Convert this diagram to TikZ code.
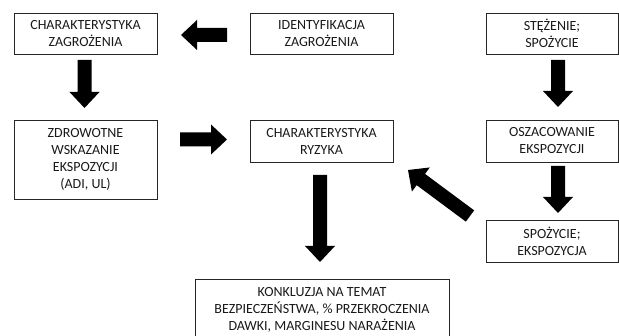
\documentclass[tikz,border=0pt]{standalone}
\usepackage{fontspec}
\setmainfont{Carlito}
\usetikzlibrary{calc}
\tikzset{
  box/.style={draw=black!85, line width=0.8pt, inner sep=0pt, align=center,
    text=black!90, font=\fontsize{14}{17}\selectfont},
}
\newcommand{\blockarrow}[2]{%
  \path ($(#2)!16pt!(#1)$) coordinate (hb);
  \fill[black] ($(#1)!7pt!90:(#2)$) -- ($(hb)!7pt!90:(#2)$) -- ($(hb)!15pt!90:(#2)$)
    -- (#2) -- ($(hb)!15pt!-90:(#2)$) -- ($(hb)!7pt!-90:(#2)$) -- ($(#1)!7pt!-90:(#2)$) -- cycle;}
\begin{document}
\begin{tikzpicture}[x=1pt,y=-1pt]
\useasboundingbox (0,0) rectangle (619,336);
\begin{scope}
\clip (0,0) rectangle (619,336);
\node[box, minimum width=143pt, minimum height=41pt] (A) at (85.5,33.5) {CHARAKTERYSTYKA\\ZAGROŻENIA};
\node[box, minimum width=143pt, minimum height=41pt] (B) at (321.5,33.5) {IDENTYFIKACJA\\ZAGROŻENIA};
\node[box, minimum width=132pt, minimum height=41pt] (C) at (552,33.5) {STĘŻENIE;\\SPOŻYCIE};
\node[box, minimum width=143pt, minimum height=79pt] (D) at (85.5,159.5) {ZDROWOTNE\\WSKAZANIE\\EKSPOZYCJI\\(ADI, UL)};
\node[box, minimum width=143pt, minimum height=42pt] (E) at (321.5,141) {CHARAKTERYSTYKA\\RYZYKA};
\node[box, minimum width=132pt, minimum height=42pt] (F) at (552,141) {OSZACOWANIE\\EKSPOZYCJI};
\node[box, minimum width=132pt, minimum height=42pt] (G) at (552,241) {SPOŻYCIE;\\EKSPOZYCJA};
\node[box, minimum width=254pt, minimum height=61pt] (H) at (322,309.5) {KONKLUZJA NA TEMAT\\BEZPIECZEŃSTWA, \% PRZEKROCZENIA\\DAWKI, MARGINESU NARAŻENIA};
\end{scope}
% arrow end points
\coordinate (a1s) at (227,35);   \coordinate (a1e) at (181,35);
\coordinate (a2s) at (84.5,60);  \coordinate (a2e) at (84.5,108);
\coordinate (a3s) at (180,139.5);\coordinate (a3e) at (227,139.5);
\coordinate (a4s) at (558,60);   \coordinate (a4e) at (558,107);
\coordinate (a5s) at (320,175);  \coordinate (a5e) at (320,262);
\coordinate (a6s) at (470,216);  \coordinate (a6e) at (408,170);
\coordinate (a7s) at (558,166);  \coordinate (a7e) at (558,213);
\blockarrow{a1s}{a1e}
\blockarrow{a2s}{a2e}
\blockarrow{a3s}{a3e}
\blockarrow{a4s}{a4e}
\blockarrow{a5s}{a5e}
\blockarrow{a6s}{a6e}
\blockarrow{a7s}{a7e}
\end{tikzpicture}
\end{document}
